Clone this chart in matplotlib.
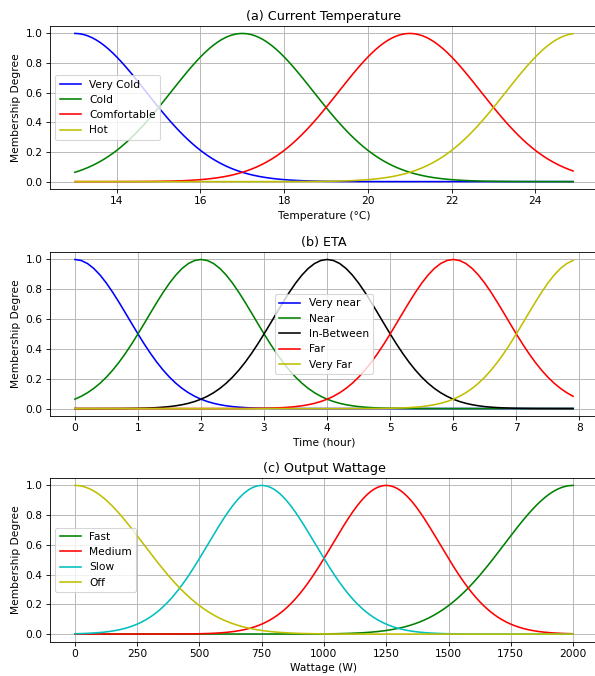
import numpy as np
import matplotlib
matplotlib.use("Agg")
import matplotlib.pyplot as plt

# gaussian membership parameters
temp_x = np.arange(13, 25, 0.1)
temp_labels = ['Very Cold', 'Cold', 'Comfortable', 'Hot']
temp_means = [13, 17, 21, 25]
temp_sigmas = [1.7, 1.7, 1.7, 1.7]
temp_colors = ['b', 'g', 'r', 'y']

eta_x = np.arange(0, 8, 0.1)
eta_labels = ['Very near', 'Near', 'In-Between', 'Far', 'Very Far']
eta_means = [0, 2, 4, 6, 8]
eta_sigmas = [0.85, 0.85, 0.85, 0.85, 0.85]
eta_colors = ['b', 'g', 'k', 'r', 'y']

watt_x = np.arange(0, 2001, 1)
watt_labels = ['Fast', 'Medium', 'Slow', 'Off']
watt_means = [2000, 1250, 750, 0]
watt_sigmas = [275, 215, 215, 275]
watt_colors = ['g', 'r', 'c', 'y']


def gaussmf(x, mean, sigma):
    return np.exp(-((x - mean) ** 2) / (2 * sigma ** 2))


dpi = 76.5
fig, axes = plt.subplots(3, 1, figsize=(595 / dpi, 676 / dpi), dpi=dpi)

panels = [
    (axes[0], temp_x, temp_labels, temp_means, temp_sigmas, temp_colors,
     '(a) Current Temperature', 'Temperature (°C)', 'center left'),
    (axes[1], eta_x, eta_labels, eta_means, eta_sigmas, eta_colors,
     '(b) ETA', 'Time (hour)', 'center'),
    (axes[2], watt_x, watt_labels, watt_means, watt_sigmas, watt_colors,
     '(c) Output Wattage', 'Wattage (W)', 'center left'),
]

for ax, x, labels, means, sigmas, colors, title, xlabel, loc in panels:
    for lab, m, s, c in zip(labels, means, sigmas, colors):
        ax.plot(x, gaussmf(x, m, s), c, linewidth=1.5, label=lab)
    ax.set_title(title)
    ax.set_xlabel(xlabel)
    ax.set_ylabel('Membership Degree')
    ax.grid(True)
    ax.legend(loc=loc)

axes[0].set_position([0.084, 0.7204, 0.921, 0.2411])
axes[1].set_position([0.084, 0.3846, 0.921, 0.2426])
axes[2].set_position([0.084, 0.0510, 0.921, 0.2419])

fig.savefig('out.png', dpi=dpi)
